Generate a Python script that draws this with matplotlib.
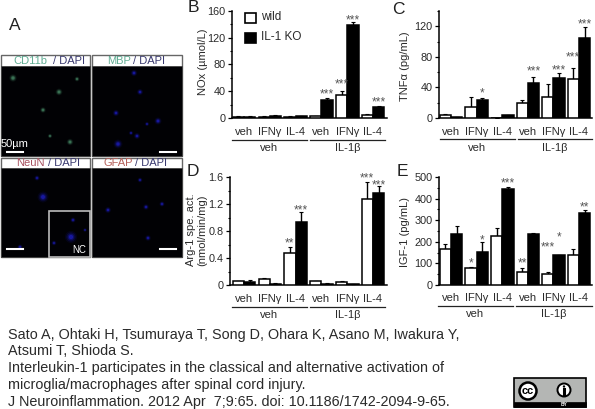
import matplotlib
matplotlib.use('Agg')
import matplotlib.pyplot as plt
from matplotlib.patches import Rectangle, Circle
from matplotlib.ticker import MultipleLocator

plt.rcParams['font.family'] = ['Liberation Sans', 'DejaVu Sans']
W, H = 595, 409
TXT = '#2a2a2a'

treatments = ['veh', 'IFNγ', 'IL-4', 'veh', 'IFNγ', 'IL-4']
groups = ['veh', 'IL-1β']

no_wild = [2, 2, 2, 3, 35, 4]
no_wild_err = [0.5, 0.5, 0.5, 0.5, 6, 2]
no_ko = [2, 3.5, 3, 27, 139, 17]
no_ko_err = [0.5, 1.5, 0.5, 3, 4, 0.5]
no_stars_wild = {4: (54, '***')}
no_stars_ko = {3: (39, '***'), 4: (150, '***'), 5: (27, '***')}

tnf_wild = [4, 14, 0.5, 20, 28, 51]
tnf_wild_err = [1, 13, 0, 4, 16, 14]
tnf_ko = [1, 23, 4, 46, 52, 105]
tnf_ko_err = [0, 3, 0, 8, 7, 14]
tnf_stars_wild = {5: (83, '***')}
tnf_stars_ko = {1: (36, '*'), 3: (64, '***'), 4: (66, '***'), 5: (126, '***')}

arg_wild = [0.054, 0.085, 0.47, 0.055, 0.05, 1.28]
arg_wild_err = [0.012, 0.015, 0.10, 0.005, 0.015, 0.24]
arg_ko = [0.04, 0.02, 0.94, 0.02, 0.015, 1.36]
arg_ko_err = [0.03, 0.005, 0.14, 0.005, 0.005, 0.11]
arg_stars_wild = {2: (0.65, '**'), 5: (1.62, '***')}
arg_stars_ko = {2: (1.14, '***'), 5: (1.52, '***')}

igf_wild = [165, 78, 225, 62, 50, 140]
igf_wild_err = [25, 4, 40, 16, 12, 25]
igf_ko = [235, 152, 443, 238, 137, 333]
igf_ko_err = [40, 48, 12, 3, 3, 12]
igf_stars_wild = {1: (115, '*'), 3: (115, '**'), 4: (188, '***')}
igf_stars_ko = {1: (218, '*'), 2: (481, '***'), 4: (231, '*'), 5: (372, '**')}

fig = plt.figure(figsize=(W / 100, H / 100), dpi=100)
page = fig.add_axes([0, 0, 1, 1])
page.set_xlim(0, W)
page.set_ylim(H, 0)
page.axis('off')


def chart(left, right, top, bottom, first, pitch, ymax, major, minor, tlab_y, fmt,
          wild, wild_err, ko, ko_err, st_w, st_k):
    ax = fig.add_axes([left / W, 1 - bottom / H, (right - left) / W, (bottom - top) / H])
    ax.patch.set_alpha(0)
    ax.set_xlim((left - first) / pitch, (right - first) / pitch)
    ax.set_ylim(0, ymax)
    bw = 11.3 / pitch
    xs = list(range(6))
    xw = [x - bw / 2 for x in xs]
    xk = [x + bw / 2 for x in xs]
    ax.bar(xw, wild, bw, color='white', edgecolor='black', linewidth=1.1, zorder=3)
    ax.bar(xk, ko, bw, color='black', edgecolor='black', linewidth=1.1, zorder=3)
    for xp, v, e in [(xw, wild, wild_err), (xk, ko, ko_err)]:
        ax.errorbar(xp, v, yerr=[[0] * 6, e], fmt='none', ecolor='black', elinewidth=1.0,
                    capsize=1.2, capthick=0.8, zorder=2)
    for xp, st in [(xw, st_w), (xk, st_k)]:
        for i, (y, s) in st.items():
            ax.annotate(s, (xp[i], y), xytext=(0, -2), textcoords='offset points', ha='center',
                        va='center', fontsize=8.6, color='#555555', annotation_clip=False)
    for s in ['top', 'right']:
        ax.spines[s].set_visible(False)
    for s in ['left', 'bottom']:
        ax.spines[s].set_linewidth(1.1)
    ax.yaxis.set_major_locator(MultipleLocator(major))
    ax.yaxis.set_minor_locator(MultipleLocator(minor))
    ax.yaxis.set_major_formatter(fmt)
    ax.tick_params(axis='y', which='major', length=3, width=0.9, labelsize=7.8, pad=1.5, labelcolor=TXT)
    ax.tick_params(axis='y', which='minor', length=1.5, width=0.8)
    ax.set_xticks(xs)
    ax.set_xticklabels(treatments, fontsize=8, color=TXT)
    ax.tick_params(axis='x', length=0, pad=tlab_y - bottom - 5.5)
    return ax


def group_lines(y, a1, a2, b1, b2, laby):
    page.plot([a1, a2], [y, y], color='#222222', lw=0.9)
    page.plot([b1, b2], [y, y], color='#222222', lw=0.9)
    page.text((a1 + a2) / 2, laby, groups[0], ha='center', va='center', fontsize=8, color=TXT)
    page.text((b1 + b2) / 2, laby, groups[1], ha='center', va='center', fontsize=8, color=TXT)


chart(232, 387, 10.7, 118, 244, 25.8, 160, 40, 20, 130, lambda v, p: f'{v:.0f}',
      no_wild, no_wild_err, no_ko, no_ko_err, no_stars_wild, no_stars_ko)
chart(439, 592, 11, 118, 451, 25.6, 140, 40, 20, 130, lambda v, p: f'{v:.0f}' if v <= 120 else '',
      tnf_wild, tnf_wild_err, tnf_ko, tnf_ko_err, tnf_stars_wild, tnf_stars_ko)
chart(230, 387, 177, 285, 244, 25.8, 1.6, 0.4, 0.2, 297, lambda v, p: f'{v:.0f}' if v == 0 else f'{v:.1f}',
      arg_wild, arg_wild_err, arg_ko, arg_ko_err, arg_stars_wild, arg_stars_ko)
chart(439, 592, 177, 285, 451, 25.6, 500, 100, 50, 296, lambda v, p: f'{v:.0f}',
      igf_wild, igf_wild_err, igf_ko, igf_ko_err, igf_stars_wild, igf_stars_ko)

group_lines(140, 232, 307, 310, 385, 148)
group_lines(139, 440, 515, 518, 592, 148)
group_lines(307, 232, 307, 310, 385, 315)
group_lines(306, 438, 513, 516, 592, 314)

for s, x, y in [('A', 15, 26), ('B', 193, 8), ('C', 398, 9), ('D', 193, 172), ('E', 402, 172)]:
    page.text(x, y, s, ha='center', va='center', fontsize=12.5, color='#222222')

for s, x, y in [('NOx (µmol/L)', 203, 62), ('TNFα (pg/mL)', 405, 66),
                ('Arg-1 spe. act.', 191, 230), ('(nmol/min/mg)', 202, 230), ('IGF-1 (pg/mL)', 405, 232)]:
    page.text(x, y, s, rotation=90, ha='center', va='center', fontsize=8, color=TXT)

# legend
page.add_patch(Rectangle((245, 12.5), 11, 10.5, fc='white', ec='black', lw=1.2))
page.add_patch(Rectangle((245, 32.5), 11, 10.5, fc='black', ec='black', lw=1.2))
page.text(261, 17, 'wild', va='center', fontsize=8.5, color=TXT)
page.text(261, 37, 'IL-1 KO', va='center', fontsize=8.5, color=TXT)

# microscopy panels
panels = [(1, 90, 55, 66, 156), (92, 182, 55, 66, 156), (1, 90, 158, 168, 257), (92, 182, 158, 168, 257)]
for x0, x1, y0, y1, y2 in panels:
    page.add_patch(Rectangle((x0, y0), x1 - x0, y2 - y0, fc='white', ec='#666666', lw=1))
    page.add_patch(Rectangle((x0, y1), x1 - x0, y2 - y1, fc='#010104', ec='#444444', lw=0.6))

green_x = [13, 77, 59, 43, 50, 70]
green_y = [78, 79, 92, 110, 136, 142]
green_s = [12, 5, 10, 7, 4, 9]
blue_x = [134, 140, 116, 158, 147, 137, 131, 118, 37, 43, 20, 71, 73, 54, 85, 140, 108, 146, 162, 148]
blue_y = [73, 92, 113, 121, 124, 136, 133, 144, 178, 197, 247, 237, 220, 243, 230, 180, 210, 207, 204, 238]
blue_s = [9, 8, 9, 11, 4, 8, 4, 17, 6, 26, 6, 32, 6, 5, 3, 5, 8, 7, 6, 7]


def blobs(xs, ys, ss, rgb, peak):
    for k, a in [(2.4, 0.10), (1.4, 0.2), (0.7, 0.35), (0.3, peak)]:
        page.scatter(xs, ys, s=[v * k for v in ss], color=rgb, alpha=a, linewidths=0, zorder=4)


blobs(green_x, green_y, green_s, '#4f9a72', 0.45)
blobs(blue_x, blue_y, blue_s, '#1c1cb8', 0.7)

page.add_patch(Rectangle((49, 211), 41, 46, fc='none', ec='#bbbbbb', lw=1.2, zorder=5))
for x1, x2, y in [(7, 23, 152), (160, 176, 152), (7, 23, 249), (160, 176, 249)]:
    page.plot([x1, x2], [y, y], color='white', lw=1.5, zorder=6)
page.text(15, 144, '50µm', ha='center', va='center', fontsize=8, color='white', zorder=6)
page.text(79, 250, 'NC', ha='center', va='center', fontsize=7, color='white', zorder=6)

for a, col, xa, xb in [('CD11b', '#62ad94', 13, 53), ('MBP', '#62ad94', 107, 133),
                       ('NeuN', '#a8505f', 16, 48), ('GFAP', '#b5605a', 103, 135)]:
    y = 60.5 if a in ('CD11b', 'MBP') else 163.5
    page.text(xa, y, a, va='center', fontsize=8, color=col, zorder=6)
    page.text(xb, y, '/ DAPI', va='center', fontsize=8, color='#3a3a70', zorder=6)

# citation
citation = ['Sato A, Ohtaki H, Tsumuraya T, Song D, Ohara K, Asano M, Iwakura Y,',
            'Atsumi T, Shioda S.',
            'Interleukin-1 participates in the classical and alternative activation of',
            'microglia/macrophages after spinal cord injury.',
            'J Neuroinflammation. 2012 Apr  7;9:65. doi: 10.1186/1742-2094-9-65.']
for s, y in zip(citation, [335, 351, 368, 385, 402]):
    page.text(8, y, s, va='center', fontsize=10.35, color=TXT)

# licence badge
page.add_patch(Rectangle((514, 378), 72, 29, fc='#b4b6b4', ec='black', lw=1.2, zorder=5))
page.add_patch(Rectangle((514, 402), 72, 5, fc='black', ec='black', lw=0.5, zorder=6))
page.add_patch(Circle((528, 391), 8.5, fc='white', ec='black', lw=1.8, zorder=6))
page.text(528, 391, 'cc', ha='center', va='center', fontsize=8, fontweight='bold', color='black', zorder=7)
page.add_patch(Circle((564, 390), 6.5, fc='white', ec='black', lw=1.4, zorder=6))
page.add_patch(Circle((564, 386.5), 1.2, fc='black', ec='none', zorder=7))
page.plot([564, 564], [388.5, 394.5], color='black', lw=2.2, zorder=7)
page.text(564, 404.7, 'BY', ha='center', va='center', fontsize=3.5, fontweight='bold', color='white', zorder=7)

fig.savefig('out.png', dpi=100)
